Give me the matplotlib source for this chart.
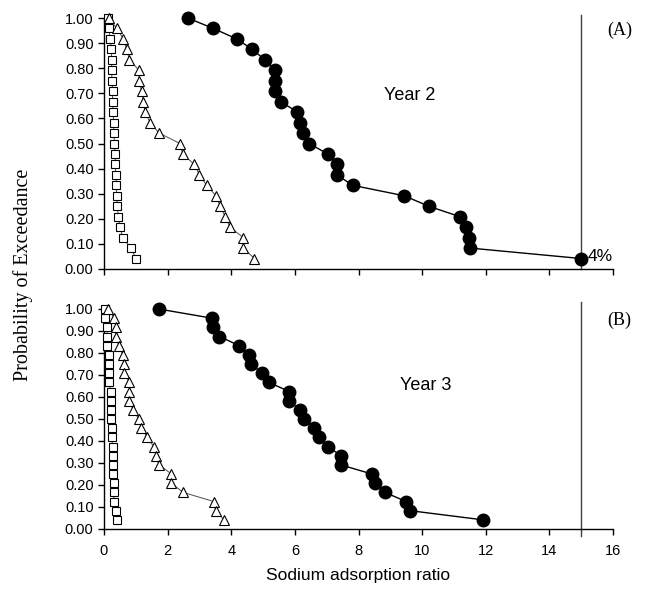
import numpy as np
import matplotlib
matplotlib.use("Agg")
import matplotlib.pyplot as plt

# exceedance probabilities, 24 ranks
prob = np.arange(24, 0, -1) / 24.0

# Year 2 (A)
y2_sq = [0.12, 0.15, 0.20, 0.23, 0.24, 0.24, 0.25, 0.27, 0.27, 0.29, 0.30, 0.31,
         0.33, 0.35, 0.36, 0.37, 0.39, 0.40, 0.42, 0.45, 0.50, 0.59, 0.84, 1.01]
y2_tri = [0.16, 0.40, 0.61, 0.71, 0.80, 1.10, 1.10, 1.18, 1.24, 1.29, 1.45, 1.73,
          2.39, 2.47, 2.84, 3.00, 3.23, 3.52, 3.65, 3.81, 3.96, 4.38, 4.38, 4.73]
y2_cir = [2.63, 3.44, 4.17, 4.66, 5.06, 5.36, 5.36, 5.38, 5.56, 6.08, 6.16, 6.24,
          6.45, 7.03, 7.32, 7.32, 7.82, 9.44, 10.21, 11.19, 11.37, 11.48, 11.51, 15.0]

# Year 3 (B)
y3_sq = [0.04, 0.04, 0.10, 0.10, 0.10, 0.16, 0.16, 0.16, 0.16, 0.21, 0.21, 0.21,
         0.21, 0.24, 0.24, 0.27, 0.27, 0.27, 0.27, 0.31, 0.31, 0.31, 0.37, 0.40]
y3_tri = [0.12, 0.33, 0.38, 0.38, 0.46, 0.59, 0.62, 0.62, 0.80, 0.80, 0.80, 0.91,
          1.09, 1.17, 1.36, 1.56, 1.64, 1.73, 2.12, 2.12, 2.48, 3.45, 3.51, 3.77]
y3_cir = [1.72, 3.39, 3.44, 3.63, 4.25, 4.55, 4.61, 4.98, 5.18, 5.82, 5.82, 6.16,
          6.28, 6.60, 6.76, 7.05, 7.44, 7.44, 8.42, 8.52, 8.83, 9.49, 9.62, 11.91]

limit_sar = 15
yticks = np.arange(0, 1.01, 0.1)
xticks = np.arange(0, 17, 2)

fig = plt.figure(figsize=(6.48, 5.90), dpi=100)
W, H = 648.0, 590.0
ax1 = fig.add_axes([104 / W, (H - 269) / H, 509 / W, 251 / H])
ax2 = fig.add_axes([104 / W, (H - 529) / H, 509 / W, 220 / H])


def draw_panel(ax, sq, tri, cir, tag, year, year_xy, show_xlabels):
    ax.plot(sq, prob, "-", color="0.3", lw=0.7, marker="s", ms=5.5,
            mfc="white", mec="black", mew=0.8, zorder=3, clip_on=False)
    ax.plot(tri, prob, "-", color="0.3", lw=0.7, marker="^", ms=6.5,
            mfc="white", mec="black", mew=0.8, zorder=3, clip_on=False)
    ax.plot(cir, prob, "-", color="black", lw=1.0, marker="o", ms=9,
            mfc="black", mec="black", zorder=4, clip_on=False)
    ax.set_xlim(0, 16)
    ax.set_ylim(0, 1.0)
    ax.set_xticks(xticks)
    ax.set_yticks(yticks)
    ax.set_yticklabels(["%.2f" % v for v in yticks])
    if not show_xlabels:
        ax.set_xticklabels([])
    for s in ["top", "right"]:
        ax.spines[s].set_visible(False)
    for s in ["left", "bottom"]:
        ax.spines[s].set_linewidth(1.0)
    ax.tick_params(direction="out", length=4, width=1.0, labelsize=10.5)
    ax.tick_params(axis="x", pad=7)
    ax.tick_params(axis="y", pad=3.5)
    for lab in ax.get_xticklabels() + ax.get_yticklabels():
        lab.set_family("Liberation Sans")
    ax.text(year_xy[0], year_xy[1], year, fontsize=13, family="Liberation Sans",
            ha="center", va="center")
    ax.text(16.2, 0.95, tag, fontsize=13, family="Liberation Serif",
            ha="center", va="center", clip_on=False)


draw_panel(ax1, y2_sq, y2_tri, y2_cir, "(A)", "Year 2", (9.6, 0.69), False)
draw_panel(ax2, y3_sq, y3_tri, y3_cir, "(B)", "Year 3", (10.1, 0.65), True)

ax1.plot([limit_sar, limit_sar], [0, 1.01], color="0.25", lw=1.0, clip_on=False, zorder=2)
ax2.plot([limit_sar, limit_sar], [-0.03, 1.03], color="0.25", lw=1.0, clip_on=False, zorder=2)
ax1.text(15.2, 0.05, "4%", fontsize=12.5, family="Liberation Sans", ha="left", va="center")

ax2.set_xlabel("Sodium adsorption ratio", fontsize=12.5, family="Liberation Sans", labelpad=7)
fig.text(0.036, 0.534, "Probability of Exceedance", rotation=90, fontsize=14.5,
         family="Liberation Serif", ha="center", va="center")

fig.savefig("out.png", dpi=100)
